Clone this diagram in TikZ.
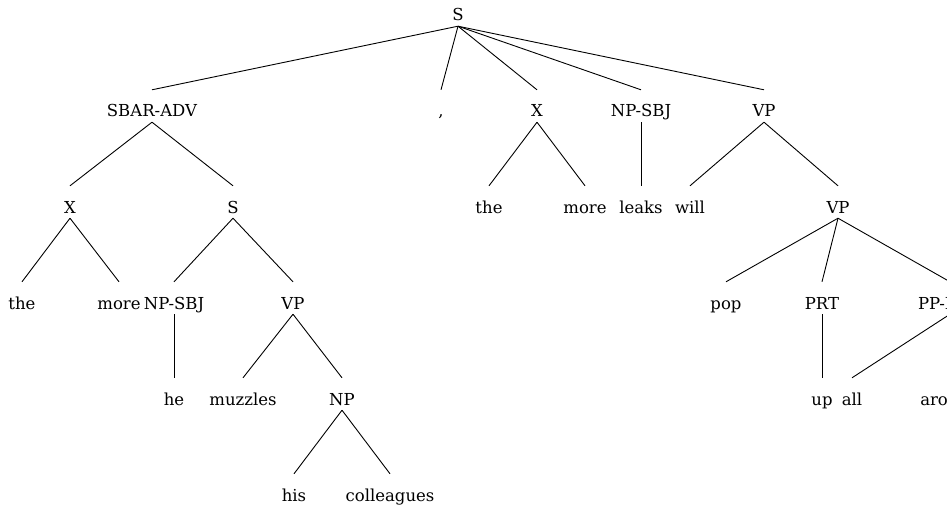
\documentclass[tikz,border=0pt]{standalone}
\usepackage{fontspec}
\setmainfont{DejaVu Serif}
\begin{document}
\begin{tikzpicture}[x=1pt,y=-1pt,
  tn/.style={inner sep=0pt, text height=27pt, text depth=5pt, anchor=base,
             font=\fontsize{16.5}{18}\selectfont},
  br/.style={line width=0.9pt}]
\clip (0,0) rectangle (947,505);
\useasboundingbox (0,0) rectangle (947,505);
% level 0
\node[tn] (s0) at (458,21) {S};
% level 1
\node[tn] (sbar) at (152,117) {SBAR-ADV};
\node[tn] (comma) at (441,117) {,};
\node[tn] (xa) at (537,117) {X};
\node[tn] (npa) at (641,117) {NP-SBJ};
\node[tn] (vpa) at (764,117) {VP};
% level 2
\node[tn] (xb) at (70,213) {X};
\node[tn] (sb) at (233,213) {S};
\node[tn] (thea) at (489,213) {the};
\node[tn] (morea) at (585,213) {more};
\node[tn] (leaks) at (641,213) {leaks};
\node[tn] (will) at (690,213) {will};
\node[tn] (vpb) at (838,213) {VP};
% level 3
\node[tn] (theb) at (22,309) {the};
\node[tn] (moreb) at (119,309) {more};
\node[tn] (npb) at (174,309) {NP-SBJ};
\node[tn] (vpc) at (293,309) {VP};
\node[tn] (pop) at (726,309) {pop};
\node[tn] (prt) at (822,309) {PRT};
\node[tn] (pp) at (950,309) {PP-LOC};
% level 4
\node[tn] (he) at (174,405) {he};
\node[tn] (muzzles) at (243,405) {muzzles};
\node[tn] (np) at (342,405) {NP};
\node[tn] (up) at (822,405) {up};
\node[tn] (all) at (852,405) {all};
\node[tn] (around) at (950,405) {around};
% level 5
\node[tn] (his) at (294,501) {his};
\node[tn] (coll) at (390,501) {colleagues};
% branches
\foreach \p/\c in {s0/sbar, s0/comma, s0/xa, s0/npa, s0/vpa,
                   sbar/xb, sbar/sb, xa/thea, xa/morea, npa/leaks,
                   vpa/will, vpa/vpb,
                   xb/theb, xb/moreb, sb/npb, sb/vpc,
                   vpb/pop, vpb/prt, vpb/pp,
                   npb/he, vpc/muzzles, vpc/np, prt/up, pp/all, pp/around,
                   np/his, np/coll}
  \draw[br] (\p.south) -- (\c.north);
\end{tikzpicture}
\end{document}
